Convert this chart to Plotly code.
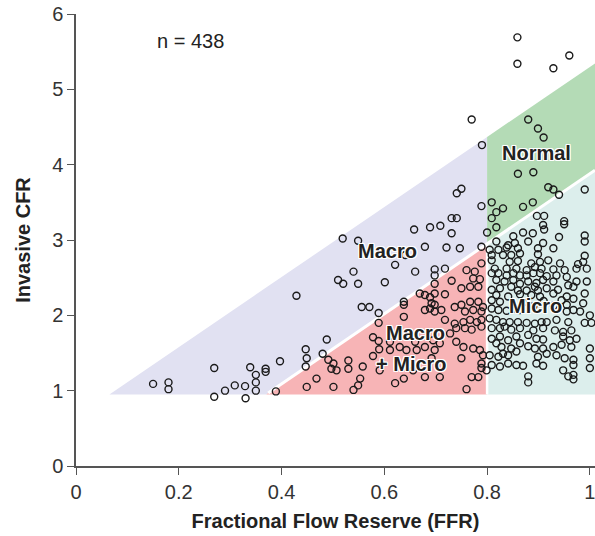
import plotly.graph_objects as go

# ---------------- data (FFR, invasive CFR) ----------------
# low-FFR sparse points
ffr_a = [0.150, 0.180, 0.180, 0.269, 0.269, 0.290, 0.309, 0.329, 0.330, 0.339, 0.350, 0.350, 0.350, 0.369, 0.369, 0.389, 0.397, 0.429]
cfr_a = [1.09, 1.11, 1.02, 1.30, 0.92, 1.00, 1.07, 1.06, 0.90, 1.31, 1.21, 1.11, 1.00, 1.29, 1.25, 0.99, 1.39, 2.26]

# FFR 0.44 - 0.69
ffr_b = [0.519, 0.549, 0.658, 0.641, 0.621, 0.660, 0.540, 0.510, 0.520, 0.549, 0.601, 0.638, 0.638, 0.556, 0.571,
         0.589, 0.638, 0.488, 0.447, 0.449, 0.447, 0.480, 0.491, 0.501, 0.497, 0.507, 0.530, 0.530, 0.558, 0.589,
         0.578, 0.589, 0.590, 0.578, 0.611, 0.611, 0.630, 0.643, 0.663, 0.621, 0.638, 0.656, 0.540, 0.549, 0.553,
         0.501, 0.468, 0.449, 0.591, 0.669, 0.689, 0.689, 0.660]
cfr_b = [3.02, 2.99, 3.14, 2.80, 2.67, 2.58, 2.58, 2.47, 2.42, 2.42, 2.44, 2.18, 2.14, 2.11, 2.11,
         2.03, 1.98, 1.68, 1.55, 1.43, 1.32, 1.49, 1.41, 1.36, 1.29, 1.27, 1.40, 1.29, 1.32, 1.90,
         1.71, 1.66, 1.55, 1.46, 1.54, 1.65, 1.58, 1.54, 1.54, 1.10, 1.16, 1.27, 1.01, 1.07, 1.16,
         1.05, 1.16, 1.05, 1.27, 2.29, 2.24, 2.09, 1.65]

# FFR 0.69 - 0.80, high CFR
ffr_c = [0.741, 0.750, 0.789, 0.731, 0.741, 0.709, 0.689, 0.731, 0.770, 0.790]
cfr_c = [3.62, 3.68, 3.45, 3.29, 3.29, 3.19, 3.17, 3.09, 4.60, 4.26]

# FFR 0.67 - 0.80, CFR < 3
ffr_p = [0.679, 0.721, 0.747, 0.789,
         0.698, 0.718, 0.698, 0.698, 0.731, 0.760, 0.776, 0.789, 0.773, 0.786, 0.767, 0.783, 0.750,
         0.679, 0.698, 0.718, 0.692, 0.698, 0.679, 0.698, 0.711, 0.737, 0.750, 0.767, 0.783, 0.792, 0.757, 0.773, 0.789,
         0.718, 0.737, 0.754, 0.767, 0.780, 0.789, 0.740, 0.757, 0.770, 0.789, 0.728,
         0.695, 0.708, 0.740, 0.754, 0.773, 0.786, 0.679, 0.698, 0.692, 0.750, 0.792, 0.789, 0.789, 0.708, 0.679, 0.770,
         0.783, 0.760]
cfr_p = [2.91, 2.90, 2.89, 2.91,
         2.61, 2.62, 2.53, 2.42, 2.46, 2.60, 2.58, 2.69, 2.49, 2.48, 2.38, 2.38, 2.36,
         2.27, 2.29, 2.28, 2.16, 2.14, 2.07, 2.05, 2.07, 2.11, 2.14, 2.18, 2.18, 2.11, 2.05, 2.07, 2.05,
         1.94, 1.89, 1.91, 1.94, 1.91, 1.94, 1.83, 1.83, 1.81, 1.85, 1.76,
         1.67, 1.63, 1.65, 1.58, 1.56, 1.54, 1.58, 1.54, 1.43, 1.43, 1.47, 1.36, 1.30, 1.18, 1.18, 1.18,
         1.18, 1.02]

# very high CFR
ffr_t = [0.859, 0.859, 0.929, 0.960, 0.880, 0.899, 0.910]
cfr_t = [5.69, 5.34, 5.28, 5.45, 4.60, 4.48, 4.36]

# FFR > 0.8, CFR >= 3
ffr_n = [0.860, 0.890, 0.919, 0.929, 0.940, 0.990, 0.809, 0.818, 0.831, 0.870, 0.889, 0.809, 0.818, 0.800, 0.897,
         0.911, 0.909, 0.911, 0.950, 0.950, 0.940, 0.990, 0.870, 0.889, 0.851]
cfr_n = [3.88, 3.90, 3.70, 3.67, 3.60, 3.67, 3.50, 3.37, 3.42, 3.44, 3.50, 3.29, 3.17, 3.10, 3.32,
         3.32, 3.20, 3.14, 3.25, 3.21, 3.04, 3.06, 3.10, 3.09, 3.05]

# FFR > 0.8, CFR < 3 (dense cloud)
ffr_m = [0.818, 0.854, 0.880, 0.909, 0.990, 0.841,
         0.805, 0.822, 0.838, 0.860, 0.899, 0.929,
         0.809, 0.831, 0.847, 0.864, 0.899, 0.990,
         0.809, 0.844, 0.860, 0.886, 0.903, 0.919, 0.942, 0.987, 0.977,
         0.815, 0.838, 0.857, 0.877, 0.893, 0.906, 0.929, 0.951, 0.974, 0.994,
         0.809, 0.822, 0.838, 0.851, 0.864, 0.877, 0.890, 0.903, 0.916, 0.935, 0.955,
         0.818, 0.834, 0.851, 0.864, 0.880, 0.896, 0.909, 0.929, 0.958, 0.974, 0.994,
         0.809, 0.825, 0.847, 0.860, 0.877, 0.893, 0.899, 0.916, 0.938, 0.968,
         0.818, 0.841, 0.864, 0.886, 0.903, 0.929, 0.955, 0.990,
         0.809, 0.825, 0.945, 0.968, 0.987, 0.955,
         0.809, 0.822, 0.838, 0.851, 0.864, 0.955, 0.968, 0.981, 1.000,
         0.805, 0.818, 0.831, 0.844, 0.860, 0.877, 0.893, 0.906, 0.916, 0.935, 0.958, 0.990, 1.003,
         0.809, 0.825, 0.834, 0.847, 0.864, 0.890, 0.909, 0.932, 0.948, 0.964,
         0.809, 0.825, 0.841, 0.857, 0.880, 0.896, 0.909, 0.948, 0.961, 0.974,
         0.818, 0.828, 0.847, 0.864, 0.880, 0.893, 0.909, 0.929, 0.945, 0.964, 1.000,
         0.805, 0.822, 0.831, 0.841, 0.857, 0.899, 0.916, 0.935, 0.951, 0.968, 1.000,
         0.809, 0.825, 0.841, 0.857, 0.870, 0.896, 0.909, 0.948, 0.968, 1.000,
         0.880, 0.880, 0.958, 0.968, 0.968, 0.799,
         0.870, 0.890, 0.910, 0.930]
cfr_m = [2.98, 2.96, 2.98, 2.96, 2.98, 2.93,
         2.87, 2.87, 2.90, 2.89, 2.89, 2.89,
         2.80, 2.80, 2.80, 2.82, 2.81, 2.79,
         2.73, 2.71, 2.72, 2.69, 2.71, 2.73, 2.69, 2.71, 2.68,
         2.62, 2.62, 2.62, 2.60, 2.64, 2.62, 2.61, 2.60, 2.62, 2.62,
         2.56, 2.56, 2.53, 2.56, 2.53, 2.53, 2.56, 2.56, 2.52, 2.53, 2.51,
         2.47, 2.45, 2.47, 2.42, 2.45, 2.43, 2.47, 2.45, 2.40, 2.45, 2.45,
         2.34, 2.36, 2.38, 2.33, 2.33, 2.38, 2.33, 2.36, 2.34, 2.38,
         2.27, 2.25, 2.28, 2.27, 2.25, 2.29, 2.25, 2.29,
         2.20, 2.18, 2.20, 2.22, 2.16, 2.14,
         2.09, 2.07, 2.06, 2.09, 2.07, 2.05, 2.07, 2.05, 2.00,
         1.96, 1.94, 1.91, 1.91, 1.91, 1.90, 1.89, 1.91, 1.91, 1.94, 1.91, 1.90, 1.90,
         1.83, 1.83, 1.85, 1.81, 1.83, 1.80, 1.83, 1.80, 1.78, 1.80,
         1.69, 1.72, 1.67, 1.72, 1.74, 1.69, 1.68, 1.72, 1.67, 1.69,
         1.63, 1.58, 1.56, 1.63, 1.59, 1.56, 1.56, 1.58, 1.61, 1.58, 1.56,
         1.47, 1.45, 1.49, 1.47, 1.52, 1.45, 1.49, 1.47, 1.43, 1.41, 1.43,
         1.34, 1.32, 1.36, 1.34, 1.33, 1.36, 1.33, 1.27, 1.34, 1.30,
         1.19, 1.11, 1.19, 1.21, 1.15, 1.27,
         2.17, 2.12, 2.19, 2.13]

ffr = ffr_a + ffr_b + ffr_c + ffr_p + ffr_t + ffr_n + ffr_m
cfr = cfr_a + cfr_b + cfr_c + cfr_p + cfr_t + cfr_n + cfr_m
assert len(ffr) == len(cfr)

# diagnostic zone boundaries
CFR_FLOOR = 0.95
FFR_CUT = 0.80
SLOPE = 4.65
UPPER_X0 = 0.065
LOWER_X0 = 0.37
X_END = 1.01

x_ticks = [0, 0.2, 0.4, 0.6, 0.8, 1]
x_tick_text = ["0", "0.2", "0.4", "0.6", "0.8", "1"]
y_ticks = [0, 1, 2, 3, 4, 5, 6]

zone_labels = ["Macro", "Normal", "Micro", "Macro", "+ Micro"]
zone_label_x = [0.607, 0.897, 0.894, 0.661, 0.652]
zone_label_y = [2.86, 4.16, 2.12, 1.76, 1.35]


def upper(x):
    return CFR_FLOOR + SLOPE * (x - UPPER_X0)


def lower(x):
    return CFR_FLOOR + SLOPE * (x - LOWER_X0)


fig = go.Figure()


def region(xs, ys, color):
    fig.add_trace(go.Scatter(x=xs, y=ys, mode="lines", fill="toself", fillcolor=color,
                             line=dict(width=0, color=color), hoverinfo="skip", showlegend=False))


region([UPPER_X0, FFR_CUT, FFR_CUT, LOWER_X0],
       [CFR_FLOOR, upper(FFR_CUT), lower(FFR_CUT), CFR_FLOOR], "#E1E1F2")
region([LOWER_X0, FFR_CUT, FFR_CUT],
       [CFR_FLOOR, lower(FFR_CUT), CFR_FLOOR], "#F7B4B6")
region([FFR_CUT, FFR_CUT, X_END, X_END],
       [lower(FFR_CUT), upper(FFR_CUT), upper(X_END), lower(X_END)], "#B4DBB6")
region([FFR_CUT, FFR_CUT, X_END, X_END],
       [CFR_FLOOR, lower(FFR_CUT), lower(X_END), CFR_FLOOR], "#DCEEEC")

# white separators
fig.add_trace(go.Scatter(x=[LOWER_X0 + 0.004, X_END], y=[lower(LOWER_X0 + 0.004), lower(X_END)], mode="lines",
                         line=dict(color="white", width=3), hoverinfo="skip", showlegend=False))
fig.add_trace(go.Scatter(x=[FFR_CUT, FFR_CUT], y=[CFR_FLOOR, lower(FFR_CUT)], mode="lines",
                         line=dict(color="white", width=2.5), hoverinfo="skip", showlegend=False))

# points
fig.add_trace(go.Scatter(x=ffr, y=cfr, mode="markers",
                         marker=dict(symbol="circle-open", size=7, color="#1a1a1a",
                                     line=dict(width=1.4, color="#1a1a1a")),
                         showlegend=False))

FONT = "Liberation Sans, Arial, sans-serif"
halo = ("1px 1px 0 #fff, -1px -1px 0 #fff, 1px -1px 0 #fff, -1px 1px 0 #fff, "
        "0 1px 0 #fff, 0 -1px 0 #fff, 1px 0 0 #fff, -1px 0 0 #fff")
lab_font = dict(family=FONT, size=20, color="#222222", weight="bold", shadow=halo)

for txt, lx, ly in zip(zone_labels, zone_label_x, zone_label_y):
    fig.add_annotation(x=lx, y=ly, text=txt, showarrow=False, font=lab_font,
                       xanchor="center", yanchor="middle")

fig.add_annotation(x=0.223, y=5.64, text="n = 438", showarrow=False,
                   font=dict(family=FONT, size=20, color="#222222"),
                   xanchor="center", yanchor="middle")

axis_common = dict(showline=True, linecolor="#555555", linewidth=1.5, ticks="outside",
                   ticklen=7, tickwidth=1.3, tickcolor="#555555", showgrid=False, zeroline=False,
                   automargin=False, ticklabeloverflow="allow",
                   tickfont=dict(family=FONT, size=20, color="#333333"))

fig.update_layout(
    width=595, height=536,
    margin=dict(l=76, r=0, t=14, b=70),
    plot_bgcolor="white", paper_bgcolor="white",
    xaxis=dict(range=[0, X_END], tickvals=x_ticks, ticktext=x_tick_text,
               title=dict(text="Fractional Flow Reserve (FFR)", standoff=12,
                          font=dict(family=FONT, size=20, color="#222222", weight="bold")),
               **axis_common),
    yaxis=dict(range=[0, 6], tickvals=y_ticks,
               title=dict(text="Invasive CFR", standoff=16,
                          font=dict(family=FONT, size=20, color="#222222", weight="bold")),
               **axis_common),
)

fig.write_html("out.html", config={"displayModeBar": False},
               post_script="document.body.style.margin='0px';")
